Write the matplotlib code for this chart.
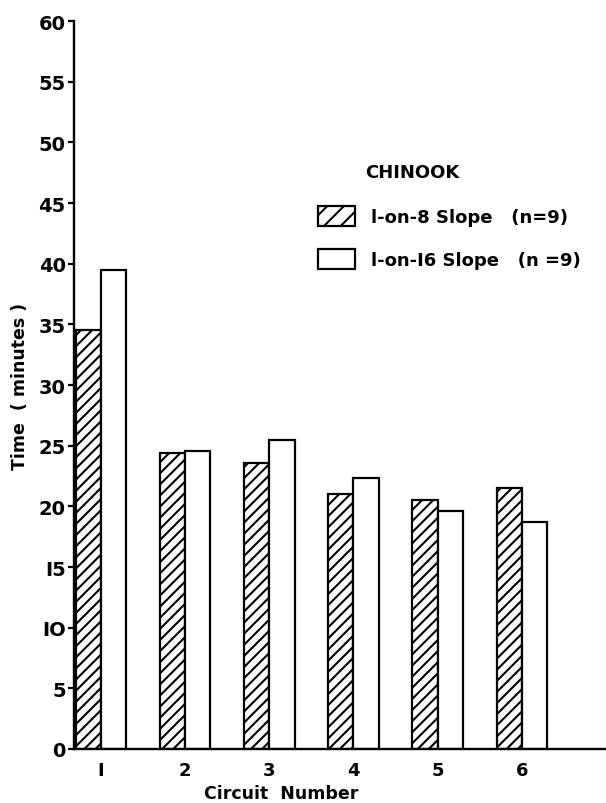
import matplotlib
matplotlib.use("Agg")
import matplotlib.pyplot as plt
from matplotlib.patches import Patch

circuits = [1, 2, 3, 4, 5, 6]
slope_8 = [34.5, 24.4, 23.6, 21.0, 20.5, 21.5]
slope_16 = [39.5, 24.6, 25.5, 22.3, 19.6, 18.7]
yticks = [0, 5, 10, 15, 20, 25, 30, 35, 40, 45, 50, 55, 60]
ytick_labels = ["0", "5", "IO", "I5", "20", "25", "30", "35", "40", "45", "50", "55", "60"]
xtick_labels = ["I", "2", "3", "4", "5", "6"]
label_8 = "l-on-8 Slope   (n=9)"
label_16 = "l-on-I6 Slope   (n =9)"
legend_title = "CHINOOK"

DPI = 100
W, H = 606, 804
plt.rcParams["font.family"] = ["DejaVu Sans"]
plt.rcParams["font.weight"] = "bold"
plt.rcParams["hatch.linewidth"] = 1.5
plt.rcParams["hatch.color"] = "black"

fig = plt.figure(figsize=(W / DPI, H / DPI), dpi=DPI)
L, B, T = 74, 750, 22
ax = fig.add_axes([L / W, 1 - B / H, 1 - L / W, (B - T) / H])

def ax_x(px):
    return (px - L) / (W - L)

def ax_y(py):
    return (B - py) / (B - T)

w = 0.3
xs8 = [c - w / 2 for c in circuits]
xs16 = [c + w / 2 for c in circuits]
ax.bar(xs8, slope_8, width=w, facecolor="white", edgecolor="black",
       linewidth=1.6, hatch="///")
ax.bar(xs16, slope_16, width=w, facecolor="white", edgecolor="black",
       linewidth=1.6)

ax.set_ylim(0, 60)
ax.set_xlim(0.68, 7.0)
ax.set_yticks(yticks)
ax.set_yticklabels(ytick_labels, fontsize=14, fontweight="bold")
ax.set_xticks(circuits)
ax.set_xticklabels(xtick_labels, fontsize=13, fontweight="bold")
ax.tick_params(axis="y", direction="out", length=4, width=1.6, pad=2)
ax.tick_params(axis="x", length=0, pad=9)

for s in ["top", "right"]:
    ax.spines[s].set_visible(False)
for s in ["left", "bottom"]:
    ax.spines[s].set_linewidth(1.7)

ax.set_ylabel("Time  ( minutes )", fontsize=12.5, fontweight="bold", labelpad=7)
ax.set_xlabel("Circuit  Number", fontsize=12.5, fontweight="bold")
ax.xaxis.set_label_coords(ax_x(281), ax_y(794))
ax.xaxis.label.set_va("center")

ax.text(ax_x(412), ax_y(173), legend_title, transform=ax.transAxes,
        ha="center", va="center", fontsize=13, fontweight="bold")

handles = [Patch(facecolor="white", edgecolor="black", linewidth=1.6, hatch="//"),
           Patch(facecolor="white", edgecolor="black", linewidth=1.6)]
leg = ax.legend(handles, [label_8, label_16],
                frameon=False, loc="upper left",
                bbox_to_anchor=(ax_x(318), ax_y(207)), borderpad=0,
                borderaxespad=0,
                fontsize=13, handlelength=2.05, handleheight=1.3,
                handletextpad=0.9, labelspacing=1.3)
for t in leg.get_texts():
    t.set_fontweight("bold")

fig.savefig("out.png", dpi=DPI, facecolor="white")
